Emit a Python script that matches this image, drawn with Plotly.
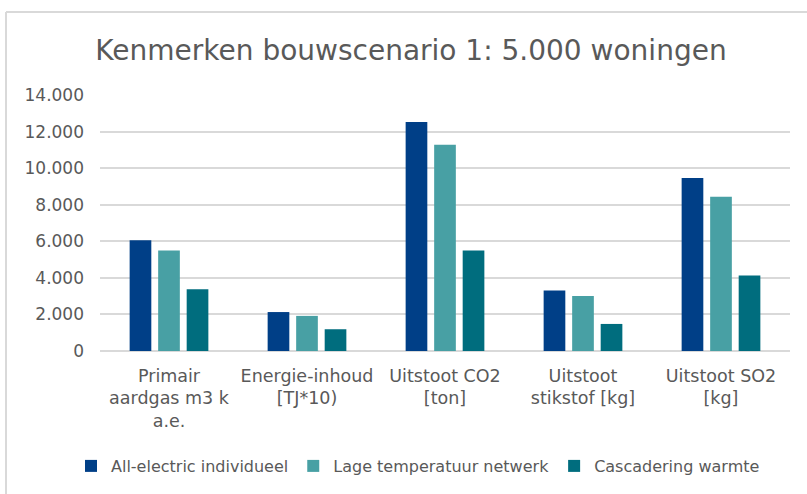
import plotly.graph_objects as go

categories = [
    "Primair<br>aardgas m3 k<br>a.e.",
    "Energie-inhoud<br>[TJ*10)",
    "Uitstoot CO2<br>[ton]",
    "Uitstoot<br>stikstof [kg]",
    "Uitstoot SO2<br>[kg]",
]
series_names = ["All-electric individueel", "Lage temperatuur netwerk", "Cascadering warmte"]
all_electric = [6050, 2130, 12520, 3310, 9460]
lage_temp = [5500, 1920, 11280, 3010, 8430]
cascadering = [3380, 1190, 5500, 1480, 4130]
y_ticks = [0, 2000, 4000, 6000, 8000, 10000, 12000, 14000]

colors = ["#003F87", "#48A0A4", "#006D7E"]
font_family = "DejaVu Sans, sans-serif"

fig = go.Figure()
for name, vals, col in zip(series_names, [all_electric, lage_temp, cascadering], colors):
    fig.add_trace(go.Bar(name=name, x=categories, y=vals, marker_color=col,
                         marker_line_width=0))

W, H = 807, 494
L, R, T, B = 100, 17, 95, 143
pw, ph = W - L - R, H - T - B

def px(x):
    return (x - L) / pw

def py(y):
    return (H - B - y) / ph

fig.update_layout(
    width=W, height=H,
    margin=dict(l=L, r=R, t=T, b=B, autoexpand=False),
    paper_bgcolor="white", plot_bgcolor="white",
    separators=",.",
    barmode="group", bargap=0.38, bargroupgap=0.24,
    font=dict(family=font_family, color="#595959"),
    title=dict(text="Kenmerken bouwscenario 1: 5.000 woningen",
               x=px(411), xref="paper", xanchor="center",
               y=1 - 50 / H, yanchor="middle",
               font=dict(size=28, color="#595959", family=font_family)),
    xaxis=dict(tickfont=dict(size=17.5, color="#595959"), showline=False,
               ticks="", showgrid=False, ticklabelstandoff=12, automargin=False),
    yaxis=dict(range=[0, 14000], tickvals=y_ticks, tickformat=",d",
               tickfont=dict(size=17, color="#595959"),
               showgrid=True, gridcolor="#d9d9d9", gridwidth=2,
               zeroline=True, zerolinecolor="#d9d9d9", zerolinewidth=2,
               ticks="", ticklabelstandoff=15, automargin=False),
    legend=dict(orientation="h", x=px(418), xanchor="center", y=py(466),
                yanchor="middle", font=dict(size=16, color="#595959"),
                itemwidth=30, traceorder="normal"),
    shapes=[
        dict(type="line", xref="paper", yref="paper", x0=px(6), x1=px(807),
             y0=py(12), y1=py(12), line=dict(color="#d9d9d9", width=2)),
        dict(type="line", xref="paper", yref="paper", x0=px(6), x1=px(6),
             y0=py(12), y1=py(494), line=dict(color="#d9d9d9", width=2)),
    ],
)

fig.write_html("out.html")
